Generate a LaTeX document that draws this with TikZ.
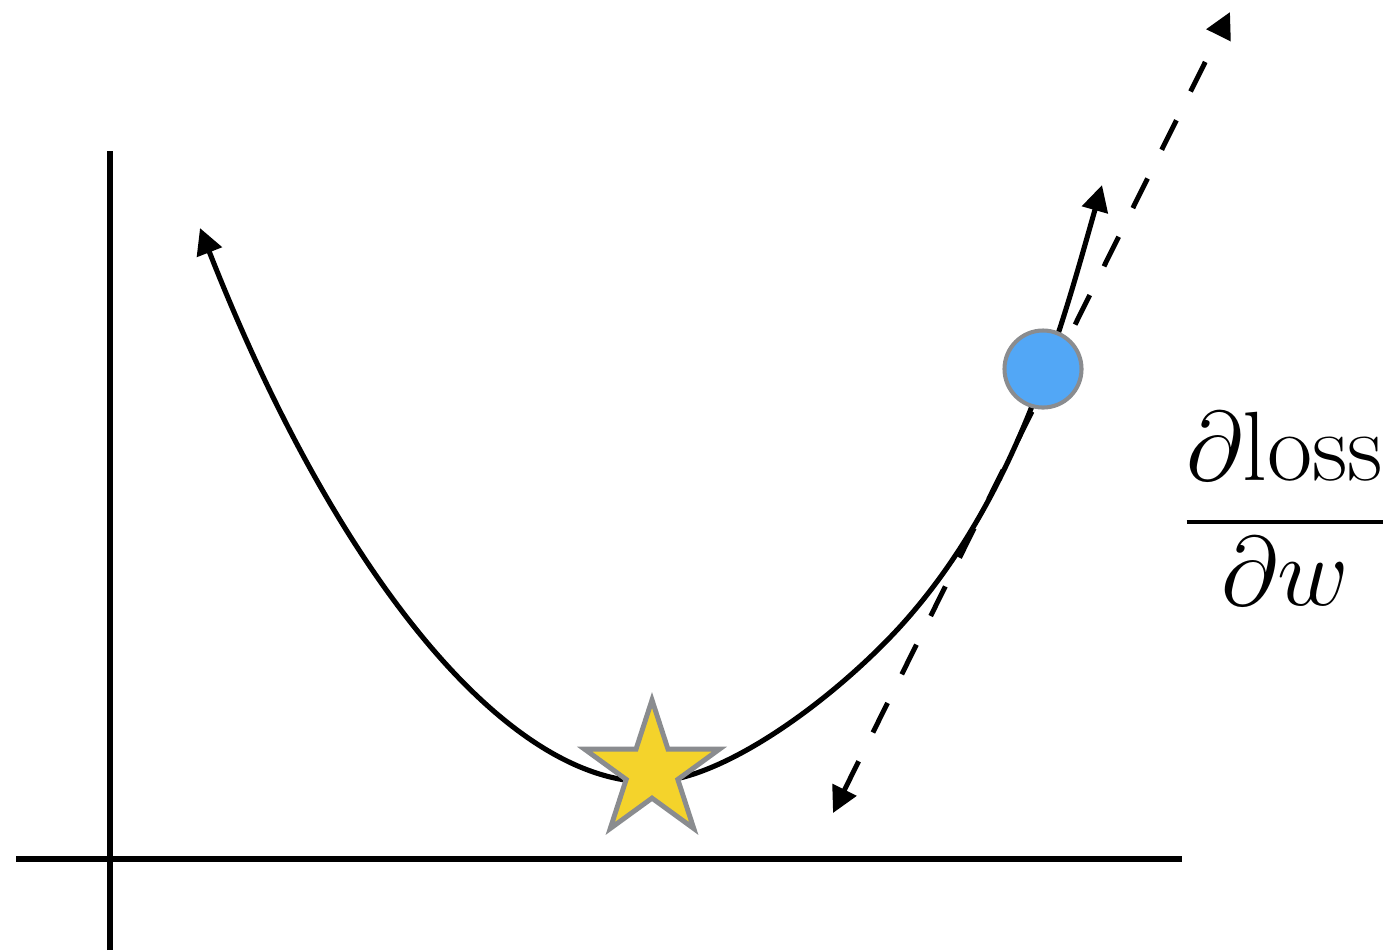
\RequirePackage{fix-cm}
\documentclass[tikz,border=0pt]{standalone}
\usetikzlibrary{arrows.meta,shapes.geometric}
\definecolor{dotblue}{RGB}{82,167,246}
\definecolor{edgegray}{RGB}{138,140,143}
\definecolor{staryellow}{RGB}{244,211,43}
\begin{document}
\begin{tikzpicture}[x=0.01cm,y=-0.01cm,
  axisline/.style={line width=1.45pt},
  tip/.tip={Triangle[length=0.26cm,width=0.26cm]},
  losscurve/.style={line width=1.45pt,tip-tip},
  tangentline/.style={line width=1.4pt,dash pattern=on 0.33cm off 0.32cm,tip-tip},
  ballmark/.style={circle,fill=dotblue,draw=edgegray,line width=1.15pt,minimum size=0.77cm,inner sep=0pt},
  starmark/.style={star,star points=5,star point ratio=2.618,fill=staryellow,draw=edgegray,line width=1.4pt,minimum size=1.42cm,inner sep=0pt}]
\useasboundingbox (0,0) rectangle (1397,950);
% axes
\coordinate (yb) at (110,950);
\coordinate (yt) at (110,151);
\coordinate (xl) at (16,859);
\coordinate (xr) at (1182,859);
\draw[axisline] (yb) -- (yt);
\draw[axisline] (xl) -- (xr);
% loss curve
\coordinate (cl) at (200,228);
\coordinate (cm) at (650,782);
\coordinate (cj) at (897,630);
\coordinate (cr) at (1102,185);
\draw[losscurve] (cl) .. controls (330,560) and (500,782) .. (cm)
  .. controls (720,782) and (829,703) .. (cj)
  .. controls (1016,501.5) and (1061,329) .. (cr);
% tangent (gradient) line
\coordinate (dlo) at (833,813);
\coordinate (dhi) at (1230,12);
\draw[tangentline] (dlo) -- (dhi);
% markers
\node[ballmark] (ball) at (1043,369) {};
\node[starmark] (minstar) at (652,771) {};
% label
\node[anchor=base,inner sep=0pt] (grad) at (1285,547) {\fontsize{28}{34}\selectfont$\displaystyle{\partial\mathrm{loss}\above 1.1pt\raisebox{2.6pt}{$\partial w$}}$};
\end{tikzpicture}
\end{document}
